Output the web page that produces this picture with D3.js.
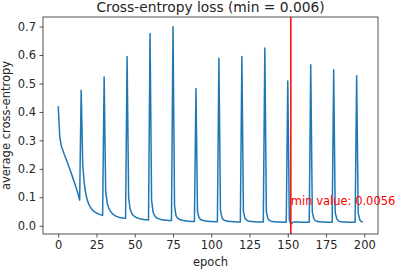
<!DOCTYPE html>
<html>
<head>
<meta charset="utf-8">
<script src="https://cdn.jsdelivr.net/npm/d3@7"></script>
<style>
  body { margin: 0; background: #fff; }
  text { font-family: "DejaVu Sans", sans-serif; fill: #262626; }
</style>
</head>
<body>
<div id="svg-container"></div>
<script>
// loss per epoch (0..199)
var loss = [
  0.420,0.312,0.280,0.265,0.250,0.236,0.222,0.207,0.192,0.177,0.161,0.145,0.128,0.110,0.090,
  0.476,0.215,0.150,0.112,0.090,0.075,0.065,0.058,0.052,0.048,0.045,0.042,0.040,0.038,0.036,
  0.523,0.120,0.080,0.062,0.052,0.045,0.040,0.036,0.033,0.031,0.029,0.028,0.027,0.026,0.026,
  0.595,0.100,0.058,0.044,0.037,0.032,0.029,0.027,0.025,0.024,0.023,0.022,0.021,0.021,0.020,
  0.676,0.090,0.048,0.035,0.029,0.026,0.024,0.022,0.021,0.020,0.019,0.019,0.018,0.018,0.018,
  0.699,0.070,0.035,0.027,0.023,0.021,0.019,0.018,0.017,0.017,0.016,0.016,0.015,0.015,0.015,
  0.482,0.050,0.028,0.022,0.019,0.018,0.017,0.016,0.016,0.015,0.015,0.015,0.014,0.014,0.014,
  0.589,0.055,0.028,0.021,0.018,0.017,0.016,0.015,0.015,0.014,0.014,0.014,0.013,0.013,0.013,
  0.595,0.052,0.027,0.020,0.017,0.016,0.015,0.015,0.014,0.014,0.013,0.013,0.013,0.013,0.013,
  0.625,0.050,0.026,0.019,0.016,0.015,0.014,0.014,0.013,0.013,0.013,0.013,0.012,0.012,0.012,
  0.509,0.020,0.0056,0.011,0.013,0.013,0.013,0.013,0.012,0.012,0.012,0.012,0.012,0.012,0.012,
  0.566,0.048,0.025,0.018,0.016,0.014,0.014,0.013,0.013,0.013,0.012,0.012,0.012,0.012,0.012,
  0.548,0.046,0.024,0.017,0.015,0.014,0.013,0.013,0.013,0.012,0.012,0.012,0.012,0.012,0.012,
  0.527,0.045,0.021,0.015,0.013
];
var xTicks = [0, 25, 50, 75, 100, 125, 150, 175, 200];
var yTicks = [0.0, 0.1, 0.2, 0.3, 0.4, 0.5, 0.6, 0.7];
var minEpoch = 152;
var minValue = 0.0056;
var labelY = 0.073;

(function(){
  var width = 401, height = 271;
  var mLeft = 43, mRight = 378, mTop = 17, mBottom = 234;

  var svg = d3.select("#svg-container").append("svg").attr("width", width).attr("height", height);

  // matplotlib style 5% margins
  var n = loss.length - 1;
  var ymin = d3.min(loss), ymax = d3.max(loss), pad = (ymax - ymin) * 0.05;
  var x = d3.scaleLinear().domain([-n * 0.05, n * 1.05]).range([mLeft, mRight]);
  var y = d3.scaleLinear().domain([ymin - pad, ymax + pad]).range([mBottom, mTop]);

  var xAxis = svg.append("g")
      .attr("transform", "translate(0," + mBottom + ")")
      .call(d3.axisBottom(x).tickValues(xTicks).tickSize(3.5).tickPadding(3.5).tickFormat(d3.format("d")));
  var yAxis = svg.append("g")
      .attr("transform", "translate(" + mLeft + ",0)")
      .call(d3.axisLeft(y).tickValues(yTicks).tickSize(3.5).tickPadding(3.5).tickFormat(d3.format(".1f")));

  [xAxis, yAxis].forEach(function(g){
    g.select(".domain").remove();
    g.selectAll(".tick line").attr("stroke", "#262626").attr("stroke-width", 0.8);
    g.selectAll(".tick text").style("font-size", "11.5px").attr("fill", "#262626");
  });

  var line = d3.line()
      .x(function(d, i) { return x(i); })
      .y(function(d) { return y(d); });

  svg.append("defs").append("clipPath").attr("id", "clip")
    .append("rect").attr("x", mLeft).attr("y", mTop).attr("width", mRight - mLeft).attr("height", mBottom - mTop);

  svg.append("path")
      .datum(loss)
      .attr("clip-path", "url(#clip)")
      .attr("fill", "none")
      .attr("stroke", "#1f77b4")
      .attr("stroke-width", 1.5)
      .attr("stroke-linejoin", "round")
      .attr("d", line);

  svg.append("line")
      .attr("x1", x(minEpoch)).attr("x2", x(minEpoch))
      .attr("y1", mTop).attr("y2", mBottom)
      .attr("stroke", "#ff0000").attr("stroke-width", 1.5);

  svg.append("text")
      .attr("x", x(minEpoch)).attr("y", y(labelY))
      .style("font-size", "11.5px").style("fill", "#ff0000")
      .text("min value: " + minValue);

  // frame
  svg.append("rect")
      .attr("x", mLeft).attr("y", mTop).attr("width", mRight - mLeft).attr("height", mBottom - mTop)
      .attr("fill", "none").attr("stroke", "#262626").attr("stroke-width", 0.8);

  svg.append("text")
      .attr("x", (mLeft + mRight) / 2).attr("y", 11.5)
      .attr("text-anchor", "middle").style("font-size", "13.8px")
      .text("Cross-entropy loss (min = " + d3.format(".3f")(minValue) + ")");

  svg.append("text")
      .attr("x", (mLeft + mRight) / 2).attr("y", 266)
      .attr("text-anchor", "middle").style("font-size", "11.5px")
      .text("epoch");

  svg.append("text")
      .attr("transform", "translate(9.5," + (mTop + mBottom) / 2 + ") rotate(-90)")
      .attr("text-anchor", "middle").style("font-size", "11.5px")
      .text("average cross-entropy");
})();
</script>
</body>
</html>
